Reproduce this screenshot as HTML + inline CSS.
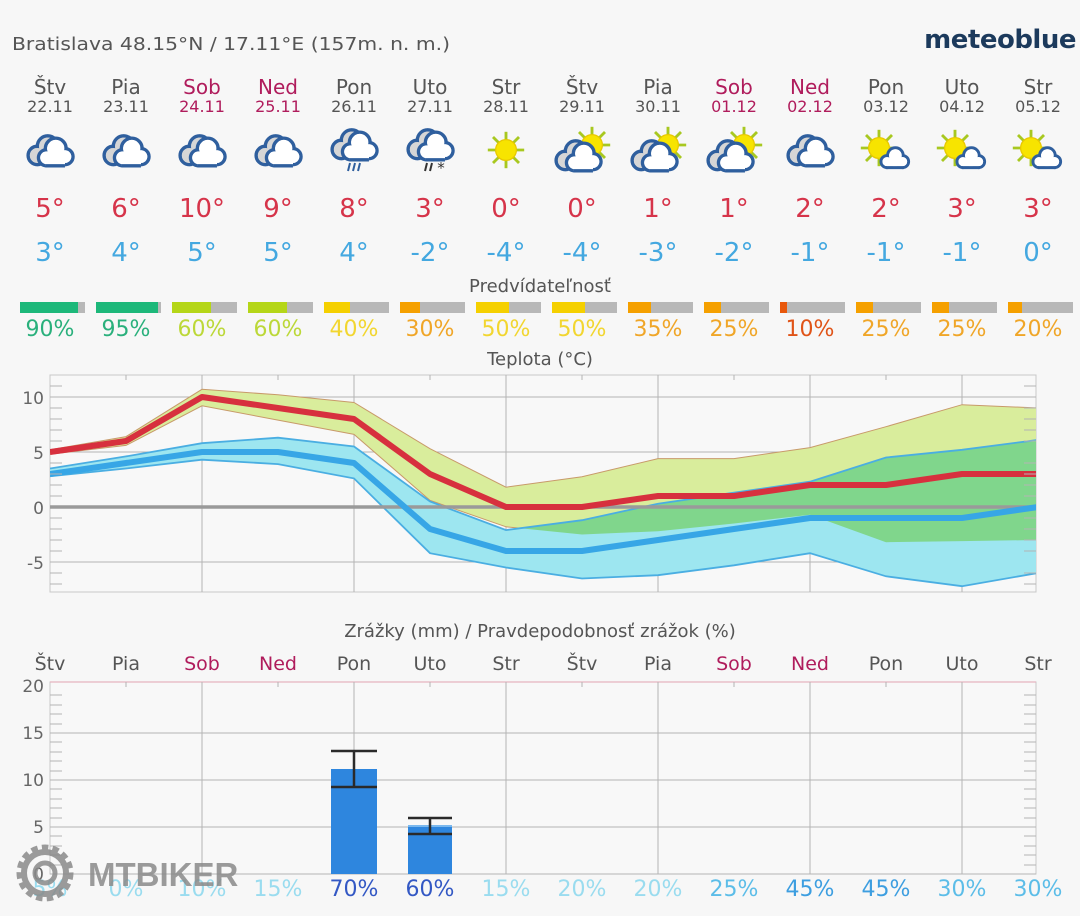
<!DOCTYPE html>
<html><head><meta charset="utf-8"><style>
html,body{margin:0;padding:0;background:#f7f7f7;}
svg{display:block;font-family:"DejaVu Sans","Liberation Sans",sans-serif;}
</style></head><body>
<svg width="1080" height="916" viewBox="0 0 1080 916" xmlns="http://www.w3.org/2000/svg">
<defs>
<g id="cloud"><g transform="scale(1.15)">
  <g fill="#d6d6d6" stroke="#2f5f9e" stroke-width="3"><circle cx="-11" cy="3" r="8"/><circle cx="-2" cy="-5" r="9"/></g>
  <g fill="#d6d6d6"><circle cx="-11" cy="3" r="6.5"/><circle cx="-2" cy="-5" r="7.5"/></g>
  <g fill="#fff" stroke="#2f5f9e" stroke-width="3"><circle cx="-3" cy="5" r="7"/><circle cx="5" cy="-3" r="9"/><circle cx="13" cy="4" r="7"/><rect x="-4" y="4" width="17" height="8" stroke="none"/></g>
  <g fill="#fff"><circle cx="-3" cy="5" r="5.5"/><circle cx="5" cy="-3" r="7.5"/><circle cx="13" cy="4" r="5.5"/><rect x="-3" y="2" width="16" height="8.5"/></g>
  <line x1="-4" y1="12" x2="13" y2="12" stroke="#2f5f9e" stroke-width="3"/>
</g></g>
<g id="sun"><g transform="scale(1.3)">
  <g stroke="#a8c820" stroke-width="2.2"><line x1="-14" y1="0" x2="14" y2="0"/><line x1="0" y1="-14" x2="0" y2="14"/><line x1="-10" y1="-10" x2="10" y2="10"/><line x1="-10" y1="10" x2="10" y2="-10"/></g>
  <circle r="8" fill="#f7e400" stroke="#e8c800" stroke-width="1"/>
</g></g>
<g id="smallcloud"><g transform="scale(1.2)">
  <g fill="#fff" stroke="#2f5f9e" stroke-width="2.5"><circle cx="-5" cy="3" r="5"/><circle cx="2" cy="-2" r="6.5"/><circle cx="8" cy="3" r="5"/></g>
  <g fill="#fff"><circle cx="-5" cy="3" r="3.8"/><circle cx="2" cy="-2" r="5.3"/><circle cx="8" cy="3" r="3.8"/><rect x="-5" y="1" width="13" height="6"/></g>
  <line x1="-6" y1="8" x2="9" y2="8" stroke="#2f5f9e" stroke-width="2.5"/>
</g></g>
<clipPath id="plot"><rect x="50" y="375" width="986" height="217"/></clipPath>
<clipPath id="maxband"><polygon points="50,449.8 126,436.6 202,389.3 278,394.8 354,402.5 430,448.7 506,487.2 582,476.75 658,458.6 734,458.6 810,447.6 886,426.7 962,404.7 1038,408 1038,540 962,541.1 886,542.2 810,514.7 734,523.5 658,531.2 582,534.5 506,526.8 430,500.4 354,434.4 278,420.1 202,405.8 126,445.4 50,454.2"/></clipPath>
</defs>

<text x="12" y="50" font-size="18" fill="#555" textLength="438" lengthAdjust="spacingAndGlyphs">Bratislava  48.15°N / 17.11°E (157m. n. m.)</text>
<text x="1076" y="48" font-size="26" font-weight="bold" fill="#1c3a5c" text-anchor="end" letter-spacing="-0.5">meteoblue</text>

<g font-size="20" text-anchor="middle" fill="#555">
<text x="50" y="94">Štv</text><text x="126" y="94">Pia</text><text x="202" y="94" fill="#b01c5c">Sob</text><text x="278" y="94" fill="#b01c5c">Ned</text><text x="354" y="94">Pon</text><text x="430" y="94">Uto</text><text x="506" y="94">Str</text><text x="582" y="94">Štv</text><text x="658" y="94">Pia</text><text x="734" y="94" fill="#b01c5c">Sob</text><text x="810" y="94" fill="#b01c5c">Ned</text><text x="886" y="94">Pon</text><text x="962" y="94">Uto</text><text x="1038" y="94">Str</text>
</g>
<g font-size="16" text-anchor="middle" fill="#555">
<text x="50" y="112">22.11</text><text x="126" y="112">23.11</text><text x="202" y="112" fill="#b01c5c">24.11</text><text x="278" y="112" fill="#b01c5c">25.11</text><text x="354" y="112">26.11</text><text x="430" y="112">27.11</text><text x="506" y="112">28.11</text><text x="582" y="112">29.11</text><text x="658" y="112">30.11</text><text x="734" y="112" fill="#b01c5c">01.12</text><text x="810" y="112" fill="#b01c5c">02.12</text><text x="886" y="112">03.12</text><text x="962" y="112">04.12</text><text x="1038" y="112">05.12</text>
</g>

<use href="#cloud" x="50" y="152"/><use href="#cloud" x="126" y="152"/><use href="#cloud" x="202" y="152"/><use href="#cloud" x="278" y="152"/>
<g><use href="#cloud" x="354" y="146"/><g stroke="#2f5f9e" stroke-width="2"><line x1="350" y1="163" x2="348" y2="171"/><line x1="355" y1="163" x2="353" y2="171"/><line x1="360" y1="163" x2="358" y2="171"/></g></g>
<g><use href="#cloud" x="430" y="146"/><g stroke="#333" stroke-width="2"><line x1="427" y1="163" x2="425" y2="171"/><line x1="432" y1="163" x2="430" y2="171"/></g><text x="441" y="173" font-size="15" fill="#333" text-anchor="middle">*</text></g>
<use href="#sun" x="506" y="150"/>
<g><use href="#sun" x="592" y="145"/><use href="#cloud" x="578" y="157"/></g>
<g><use href="#sun" x="668" y="145"/><use href="#cloud" x="654" y="157"/></g>
<g><use href="#sun" x="744" y="145"/><use href="#cloud" x="730" y="157"/></g>
<use href="#cloud" x="810" y="152"/>
<g><use href="#sun" x="879" y="148"/><use href="#smallcloud" x="893" y="158"/></g>
<g><use href="#sun" x="955" y="148"/><use href="#smallcloud" x="969" y="158"/></g>
<g><use href="#sun" x="1031" y="148"/><use href="#smallcloud" x="1045" y="158"/></g>

<g font-size="26" text-anchor="middle" fill="#d6344a">
<text x="50" y="217">5°</text><text x="126" y="217">6°</text><text x="202" y="217">10°</text><text x="278" y="217">9°</text><text x="354" y="217">8°</text><text x="430" y="217">3°</text><text x="506" y="217">0°</text><text x="582" y="217">0°</text><text x="658" y="217">1°</text><text x="734" y="217">1°</text><text x="810" y="217">2°</text><text x="886" y="217">2°</text><text x="962" y="217">3°</text><text x="1038" y="217">3°</text>
</g>
<g font-size="26" text-anchor="middle" fill="#44a8e0">
<text x="50" y="261">3°</text><text x="126" y="261">4°</text><text x="202" y="261">5°</text><text x="278" y="261">5°</text><text x="354" y="261">4°</text><text x="430" y="261">-2°</text><text x="506" y="261">-4°</text><text x="582" y="261">-4°</text><text x="658" y="261">-3°</text><text x="734" y="261">-2°</text><text x="810" y="261">-1°</text><text x="886" y="261">-1°</text><text x="962" y="261">-1°</text><text x="1038" y="261">0°</text>
</g>

<text x="540" y="292" font-size="18" fill="#555" text-anchor="middle">Predvídateľnosť</text>
<g>
<rect x="20" y="302" width="65" height="11" fill="#b8b8b8"/><rect x="20" y="302" width="58" height="11" fill="#1db87a"/>
<rect x="96" y="302" width="65" height="11" fill="#b8b8b8"/><rect x="96" y="302" width="62" height="11" fill="#1db87a"/>
<rect x="172" y="302" width="65" height="11" fill="#b8b8b8"/><rect x="172" y="302" width="39" height="11" fill="#b5d618"/>
<rect x="248" y="302" width="65" height="11" fill="#b8b8b8"/><rect x="248" y="302" width="39" height="11" fill="#b5d618"/>
<rect x="324" y="302" width="65" height="11" fill="#b8b8b8"/><rect x="324" y="302" width="26" height="11" fill="#f5d000"/>
<rect x="400" y="302" width="65" height="11" fill="#b8b8b8"/><rect x="400" y="302" width="20" height="11" fill="#f5a000"/>
<rect x="476" y="302" width="65" height="11" fill="#b8b8b8"/><rect x="476" y="302" width="33" height="11" fill="#f5d000"/>
<rect x="552" y="302" width="65" height="11" fill="#b8b8b8"/><rect x="552" y="302" width="33" height="11" fill="#f5d000"/>
<rect x="628" y="302" width="65" height="11" fill="#b8b8b8"/><rect x="628" y="302" width="23" height="11" fill="#f5a000"/>
<rect x="704" y="302" width="65" height="11" fill="#b8b8b8"/><rect x="704" y="302" width="17" height="11" fill="#f5a000"/>
<rect x="780" y="302" width="65" height="11" fill="#b8b8b8"/><rect x="780" y="302" width="7" height="11" fill="#e8580c"/>
<rect x="856" y="302" width="65" height="11" fill="#b8b8b8"/><rect x="856" y="302" width="17" height="11" fill="#f5a000"/>
<rect x="932" y="302" width="65" height="11" fill="#b8b8b8"/><rect x="932" y="302" width="17" height="11" fill="#f5a000"/>
<rect x="1008" y="302" width="65" height="11" fill="#b8b8b8"/><rect x="1008" y="302" width="14" height="11" fill="#f5a000"/>
</g>
<g font-size="22" text-anchor="middle">
<text x="50" y="336" fill="#2ab07c">90%</text><text x="126" y="336" fill="#2ab07c">95%</text><text x="202" y="336" fill="#bcd838">60%</text><text x="278" y="336" fill="#bcd838">60%</text><text x="354" y="336" fill="#f2d630">40%</text><text x="430" y="336" fill="#f0a628">30%</text><text x="506" y="336" fill="#f2d630">50%</text><text x="582" y="336" fill="#f2d630">50%</text><text x="658" y="336" fill="#f0a628">35%</text><text x="734" y="336" fill="#f0a628">25%</text><text x="810" y="336" fill="#e05418">10%</text><text x="886" y="336" fill="#f0a628">25%</text><text x="962" y="336" fill="#f0a628">25%</text><text x="1038" y="336" fill="#f0a628">20%</text>
</g>

<text x="540" y="365" font-size="18" fill="#555" text-anchor="middle">Teplota (°C)</text>
<rect x="50" y="375" width="986" height="217" fill="#f8f8f8" stroke="#c8c8c8" stroke-width="1"/>
<g stroke="#b4b4b4" stroke-width="1">
<line x1="50" y1="397" x2="1036" y2="397"/><line x1="50" y1="452" x2="1036" y2="452"/><line x1="50" y1="562" x2="1036" y2="562"/>
<line x1="202" y1="375" x2="202" y2="592"/><line x1="354" y1="375" x2="354" y2="592"/><line x1="506" y1="375" x2="506" y2="592"/><line x1="658" y1="375" x2="658" y2="592"/><line x1="810" y1="375" x2="810" y2="592"/><line x1="962" y1="375" x2="962" y2="592"/>
</g>
<g clip-path="url(#plot)">
<polygon fill="#d9ed9c" stroke="#c89a6a" stroke-width="1" points="50,449.8 126,436.6 202,389.3 278,394.8 354,402.5 430,448.7 506,487.2 582,476.75 658,458.6 734,458.6 810,447.6 886,426.7 962,404.7 1038,408 1038,540 962,541.1 886,542.2 810,514.7 734,523.5 658,531.2 582,534.5 506,526.8 430,500.4 354,434.4 278,420.1 202,405.8 126,445.4 50,454.2"/>
<polygon fill="#9de6f0" points="50,468.5 126,456.4 202,443.2 278,437.7 354,446.5 430,501.5 506,530.1 582,520.2 658,503.7 734,492.7 810,481.7 886,457.5 962,449.8 1038,439.9 1038,573 962,586.2 886,576.3 810,553.2 734,565.3 658,575.2 582,578.5 506,567.5 430,553.2 354,478.4 278,464.1 202,459.7 126,468.5 50,476.2"/>
<g clip-path="url(#maxband)"><polygon fill="#80d68c" points="50,468.5 126,456.4 202,443.2 278,437.7 354,446.5 430,501.5 506,530.1 582,520.2 658,503.7 734,492.7 810,481.7 886,457.5 962,449.8 1038,439.9 1038,573 962,586.2 886,576.3 810,553.2 734,565.3 658,575.2 582,578.5 506,567.5 430,553.2 354,478.4 278,464.1 202,459.7 126,468.5 50,476.2"/></g>
<g fill="none" stroke="#4aaee2" stroke-width="1.8">
<polyline points="50,468.5 126,456.4 202,443.2 278,437.7 354,446.5 430,501.5 506,530.1 582,520.2 658,503.7 734,492.7 810,481.7 886,457.5 962,449.8 1038,439.9"/>
<polyline points="50,476.2 126,468.5 202,459.7 278,464.1 354,478.4 430,553.2 506,567.5 582,578.5 658,575.2 734,565.3 810,553.2 886,576.3 962,586.2 1038,573"/>
</g>
<line x1="50" y1="507" x2="1036" y2="507" stroke="#9a9a9a" stroke-width="3.5"/>
<polyline fill="none" stroke="#37a6e6" stroke-width="6" stroke-linejoin="round" points="50,474 126,463 202,452 278,452 354,463 430,529 506,551 582,551 658,540 734,529 810,518 886,518 962,518 1038,507"/>
<polyline fill="none" stroke="#d7303e" stroke-width="6" stroke-linejoin="round" points="50,452 126,441 202,397 278,408 354,419 430,474 506,507 582,507 658,496 734,496 810,485 886,485 962,474 1038,474"/>
</g>
<g stroke="#b4b4b4" stroke-width="1">
<path d="M50 386h12M50 408h12M50 419h12M50 430h12M50 441h12M50 463h12M50 474h12M50 485h12M50 496h12M50 518h12M50 529h12M50 540h12M50 551h12M50 573h12M50 584h12"/>
<path d="M1036 386h-12M1036 408h-12M1036 419h-12M1036 430h-12M1036 441h-12M1036 463h-12M1036 474h-12M1036 485h-12M1036 496h-12M1036 518h-12M1036 529h-12M1036 540h-12M1036 551h-12M1036 573h-12M1036 584h-12"/>
<path d="M126 375v5M278 375v5M430 375v5M582 375v5M734 375v5M886 375v5"/>
</g>
<g font-size="17" fill="#666" text-anchor="end">
<text x="44" y="404">10</text><text x="44" y="459">5</text><text x="44" y="514">0</text><text x="44" y="569">-5</text>
</g>

<text x="540" y="637" font-size="18" fill="#555" text-anchor="middle">Zrážky (mm) / Pravdepodobnosť zrážok (%)</text>
<g font-size="19" text-anchor="middle" fill="#555">
<text x="50" y="670">Štv</text><text x="126" y="670">Pia</text><text x="202" y="670" fill="#b01c5c">Sob</text><text x="278" y="670" fill="#b01c5c">Ned</text><text x="354" y="670">Pon</text><text x="430" y="670">Uto</text><text x="506" y="670">Str</text><text x="582" y="670">Štv</text><text x="658" y="670">Pia</text><text x="734" y="670" fill="#b01c5c">Sob</text><text x="810" y="670" fill="#b01c5c">Ned</text><text x="886" y="670">Pon</text><text x="962" y="670">Uto</text><text x="1038" y="670">Str</text>
</g>
<rect x="50" y="682" width="986" height="192" fill="#f8f8f8" stroke="#c8c8c8"/>
<line x1="50" y1="682" x2="1036" y2="682" stroke="#e6b4c0" stroke-width="1.2"/>
<g stroke="#b4b4b4" stroke-width="1">
<line x1="50" y1="733" x2="1036" y2="733"/><line x1="50" y1="780" x2="1036" y2="780"/><line x1="50" y1="827" x2="1036" y2="827"/><line x1="50" y1="874" x2="1036" y2="874"/>
<line x1="202" y1="682" x2="202" y2="874"/><line x1="354" y1="682" x2="354" y2="874"/><line x1="506" y1="682" x2="506" y2="874"/><line x1="658" y1="682" x2="658" y2="874"/><line x1="810" y1="682" x2="810" y2="874"/><line x1="962" y1="682" x2="962" y2="874"/>
<path d="M50 695h12M50 705h12M50 714h12M50 724h12M50 742h12M50 752h12M50 761h12M50 771h12M50 789h12M50 799h12M50 808h12M50 818h12M50 836h12M50 846h12M50 855h12M50 865h12"/>
<path d="M1036 695h-12M1036 705h-12M1036 714h-12M1036 724h-12M1036 742h-12M1036 752h-12M1036 761h-12M1036 771h-12M1036 789h-12M1036 799h-12M1036 808h-12M1036 818h-12M1036 836h-12M1036 846h-12M1036 855h-12M1036 865h-12"/>
<path d="M126 682v5M278 682v5M430 682v5M582 682v5M734 682v5M886 682v5"/>
</g>
<rect x="331" y="769" width="46" height="105" fill="#2e86de"/>
<rect x="408" y="825" width="44" height="49" fill="#2e86de"/>
<line x1="408" y1="826" x2="452" y2="826" stroke="#7ab8ee" stroke-width="2"/>
<g stroke="#2a2a2a" stroke-width="2.5">
<line x1="354" y1="751" x2="354" y2="787"/><line x1="331" y1="751" x2="377" y2="751"/><line x1="331" y1="787" x2="377" y2="787"/>
<line x1="430" y1="818" x2="430" y2="834"/><line x1="408" y1="818" x2="452" y2="818"/><line x1="408" y1="834" x2="452" y2="834"/>
</g>
<g font-size="17" fill="#666" text-anchor="end">
<text x="44" y="692">20</text><text x="44" y="739">15</text><text x="44" y="786">10</text><text x="44" y="833">5</text><text x="44" y="880">0</text>
</g>
<g font-size="22" text-anchor="middle">
<text x="50" y="896" fill="#9adcef">5%</text><text x="126" y="896" fill="#9adcef">0%</text><text x="202" y="896" fill="#9adcef">10%</text><text x="278" y="896" fill="#9adcef">15%</text><text x="354" y="896" fill="#3358c4">70%</text><text x="430" y="896" fill="#3358c4">60%</text><text x="506" y="896" fill="#9adcef">15%</text><text x="582" y="896" fill="#9adcef">20%</text><text x="658" y="896" fill="#9adcef">20%</text><text x="734" y="896" fill="#5cbde8">25%</text><text x="810" y="896" fill="#3d9ee0">45%</text><text x="886" y="896" fill="#3d9ee0">45%</text><text x="962" y="896" fill="#5cbde8">30%</text><text x="1038" y="896" fill="#5cbde8">30%</text>
</g>

<g opacity="0.85">
<circle cx="45" cy="873" r="24" fill="none" stroke="#8a8a8a" stroke-width="9" stroke-dasharray="6 4"/>
<circle cx="45" cy="873" r="21" fill="none" stroke="#8a8a8a" stroke-width="6"/>
<circle cx="45" cy="873" r="10" fill="none" stroke="#8a8a8a" stroke-width="5"/>
<text x="88" y="886" font-size="33" font-weight="bold" fill="#8a8a8a" font-family="Liberation Sans, sans-serif">MTBIKER</text>
</g>
</svg>
</body></html>
